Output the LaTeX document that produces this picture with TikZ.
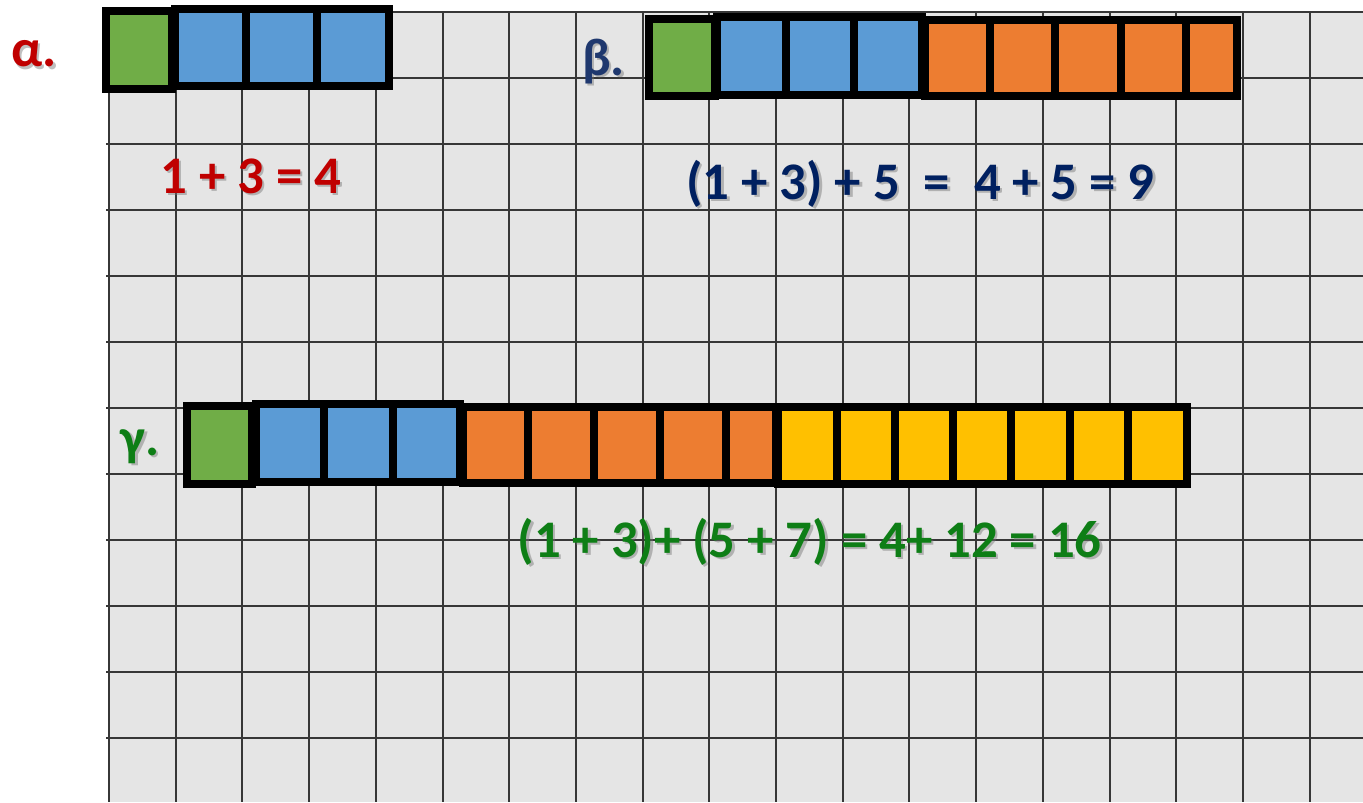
\documentclass[tikz,border=0pt]{standalone}
\usepackage{fontspec}
\setmainfont{Carlito}
\definecolor{gridbg}{RGB}{229,229,229}
\definecolor{gridln}{RGB}{55,55,55}
\definecolor{cgreen}{RGB}{112,173,71}
\definecolor{cblue}{RGB}{91,155,213}
\definecolor{corange}{RGB}{237,125,49}
\definecolor{cyellow}{RGB}{255,192,0}
\definecolor{tred}{RGB}{192,0,0}
\definecolor{tnavy}{RGB}{0,32,96}
\definecolor{tnavyl}{RGB}{31,56,110}
\definecolor{tgreen}{RGB}{14,126,22}
\newcommand\cgroup[6]{%
  \fill[#5] (#1,#2) rectangle (#3,#4);
  \foreach \d in {#6} {\draw[barline] (\d,#2) -- (\d,#4);}
  \draw[barline] (#1,#2) rectangle (#3,#4);}
\newcommand\cbox[5]{%
  \fill[#5] (#1,#2) rectangle (#3,#4);
  \draw[barline] (#1,#2) rectangle (#3,#4);}
\newcommand\shtext[5]{% name, x, y, color, text
  \node[txt, text=black!55, opacity=0.45] at (#2+2.5,#3+2.5) {#5};
  \node[txt, text=#4] (#1) at (#2,#3) {#5};}
\begin{document}
\begin{tikzpicture}[x=1bp,y=-1bp,
  barline/.style={line width=8bp, draw=black, line join=miter},
  gridline/.style={line width=2bp, draw=gridln},
  txt/.style={anchor=base, inner sep=0pt, font=\fontsize{53}{60}\selectfont\bfseries}]
\useasboundingbox (0,0) rectangle (1363,802);
\fill[white] (0,0) rectangle (1363,802);
% grid
\fill[gridbg] (109,12) rectangle (1363,802);
\foreach \k in {0,...,18} {\draw[gridline] (109+66.7*\k,12) -- (109+66.7*\k,802);}
\foreach \k in {0,...,11} {\draw[gridline] (106,12+66*\k) -- (1363,12+66*\k);}
% alpha bar
\cbox{106}{11}{172}{88.5}{cgreen}
\cgroup{175}{9}{389}{86}{cblue}{246,317}
% beta bar
\cbox{649.3}{19.2}{714.5}{96.3}{cgreen}
\cgroup{717.4}{17.2}{921.8}{94.7}{cblue}{786,854}
\cgroup{924.9}{20}{1236.5}{96.3}{corange}{989.5,1055,1120.8,1186.2}
% gamma bar
\cbox{186.6}{405.8}{252}{483.5}{cgreen}
\cgroup{255.6}{403.7}{460.2}{481.7}{cblue}{324.4,392.6}
\cgroup{462.7}{407}{776}{483.3}{corange}{528,594,659.6,725.5}
\cgroup{778}{407.3}{1186.7}{484}{cyellow}{837.2,895,953.3,1011.2,1069.9,1127.9}
% labels
\shtext{la}{34}{67}{tred}{α.}
\shtext{lb}{603.5}{75}{tnavyl}{β.}
\shtext{lc}{140}{455}{tgreen}{γ.}
% equations
\shtext{ea}{250.8}{193}{tred}{1 + 3 = 4}
\shtext{eb}{920.5}{199}{tnavy}{(1 + 3) + 5 \ = \ 4 + 5 = 9}
\shtext{ec}{809.5}{557}{tgreen}{(1 + 3)+ (5 + 7) = 4+ 12 = 16}
\end{tikzpicture}
\end{document}
